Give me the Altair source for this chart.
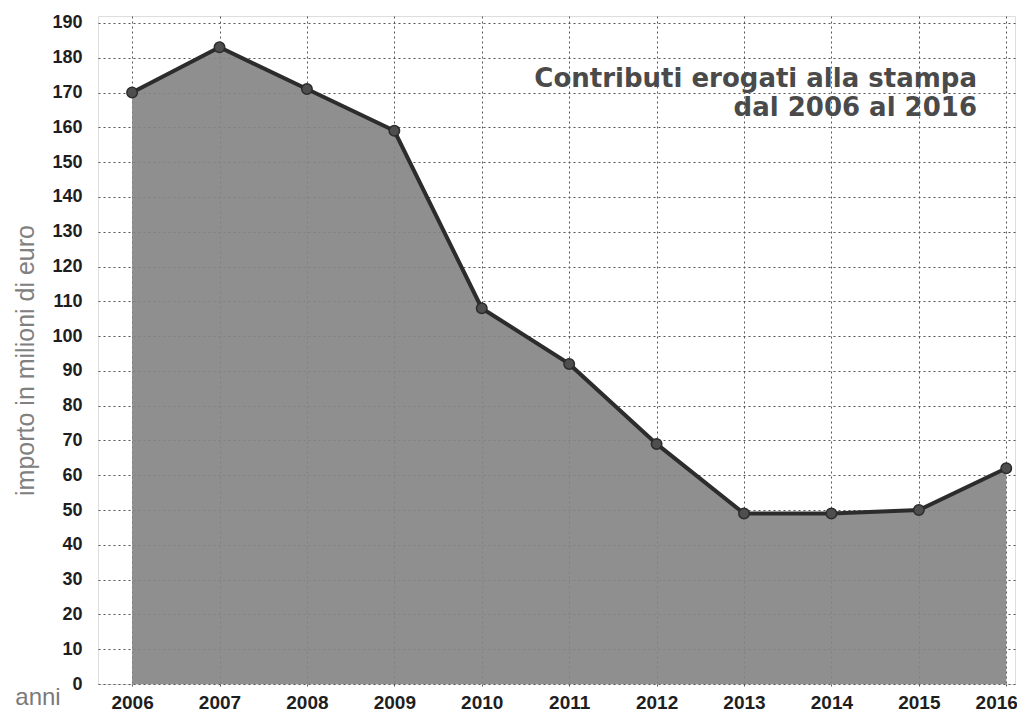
import altair as alt
import pandas as pd

years = [2006, 2007, 2008, 2009, 2010, 2011, 2012, 2013, 2014, 2015, 2016]
values = [170, 183, 171, 159, 108, 92, 69, 49, 49, 50, 62]
y_ticks = list(range(0, 200, 10))
title_lines = ["Contributi erogati alla stampa", "dal 2006 al 2016"]
y_title = "importo in milioni di euro"
x_title = "anni"

df = pd.DataFrame({"anno": years, "valore": values})

font = "Liberation Sans Narrow, Liberation Sans, Arial"

x = alt.X("anno:Q",
          scale=alt.Scale(domain=[2005.61, 2016.1], nice=False, zero=False),
          axis=alt.Axis(values=years, format="d", title=None, grid=True,
                        gridColor="#555555", gridDash=[2, 3], gridWidth=1,
                        domain=False, ticks=True, tickSize=4, tickColor="#555555",
                        tickDash=[2, 2], labelPadding=20, labelFontSize=19,
                        labelFontWeight="bold", labelColor="#1e1e1e",
                        labelFont=font, labelBaseline="alphabetic", labelFlush=False,
                        labelOverlap=False,
                        labelOffset={"condition": {"test": "datum.value == 2016", "value": -10},
                                     "value": 0}))
y = alt.Y("valore:Q",
          scale=alt.Scale(domain=[0, 192], nice=False),
          axis=alt.Axis(values=y_ticks, title=y_title, grid=True,
                        gridColor="#555555", gridDash=[2, 3], gridWidth=1,
                        domain=False, ticks=False, labelPadding=16,
                        labelFontSize=18, labelFontWeight="bold", labelOverlap=False,
                        labelColor="#1e1e1e", labelFont=font,
                        titleFont=font, titleFontSize=25, titleFontWeight="normal",
                        titleColor="#808080", titleX=-73, titleY=344,
                        titleAngle=270, titleAlign="center", titleBaseline="middle"))

base = alt.Chart(df).encode(x=x, y=y)

area = base.mark_area(color="#868686", opacity=0.92)
line = base.mark_line(color="#2c2c2c", strokeWidth=4)
pts = base.mark_circle(color="#4e4e4e", size=110, opacity=1,
                       stroke="#2c2c2c", strokeWidth=1.5)

one = pd.DataFrame({"k": [0]})
title = alt.Chart(one).mark_text(text=title_lines, align="right", baseline="alphabetic",
                                 fontSize=26, fontWeight="bold", lineHeight=29,
                                 font="DejaVu Sans", color="#4a4a4a").encode(
    x=alt.value(879), y=alt.value(71))
anni = alt.Chart(one).mark_text(text=x_title, align="center", baseline="alphabetic",
                                fontSize=24, font=font, color="#7a7a7a").encode(
    x=alt.value(-60), y=alt.value(689))

chart = alt.layer(area, line, pts, title, anni).properties(
    width=917, height=668,
    autosize=alt.AutoSizeParams(type="none"),
    padding={"left": 90, "top": 8, "right": 2, "bottom": 27},
).configure_view(stroke=None).configure(background="white")

chart.save("out.html", embed_options={"renderer": "svg", "actions": False})
